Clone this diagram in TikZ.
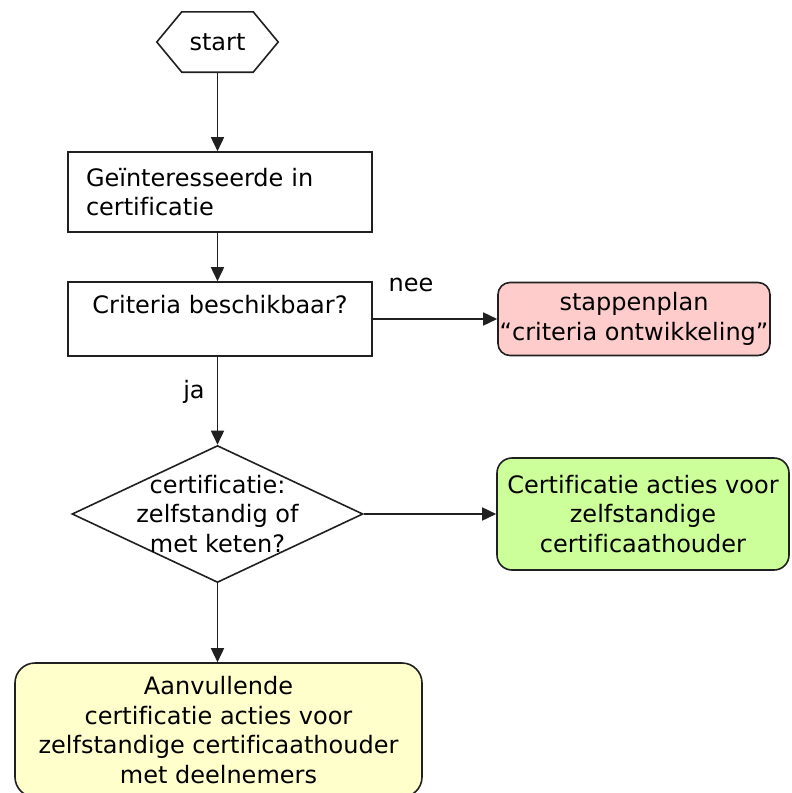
\documentclass[tikz,border=0pt]{standalone}
\usepackage{fontspec}
\setmainfont[Ligatures=NoCommon]{DejaVu Sans}
\usetikzlibrary{arrows.meta,shapes.geometric}
\definecolor{pinkfill}{HTML}{FFCCCC}
\definecolor{greenfill}{HTML}{CCFF99}
\definecolor{yellowfill}{HTML}{FFFFCC}
\definecolor{edgecol}{HTML}{202020}
\begin{document}
\begin{tikzpicture}[x=1pt,y=-1pt,
  font=\fontsize{24}{29.5}\selectfont,
  every node/.style={inner sep=0pt},
  line/.style={draw=edgecol,line width=1.6pt},
  box/.style={line,fill=white,rectangle},
  rbox/.style={line,rectangle,align=center},
  conn/.style={line,-{Triangle[length=14pt,width=13pt]}},
  lbl/.style={text=black}]
\useasboundingbox (0,0) rectangle (792,793);
\clip (0,0) rectangle (792,793);
% start
\node[minimum width=121pt,minimum height=60pt] (start) at (217.5,42) {start};
\draw[line] (start.west) -- ([xshift=25pt]start.north west) -- ([xshift=-25pt]start.north east)
  -- (start.east) -- ([xshift=-25pt]start.south east) -- ([xshift=25pt]start.south west) -- cycle;
% box 1
\node[box,minimum width=304pt,minimum height=80pt,text width=268pt,inner xsep=18pt,align=left] (b1) at (220,192)
  {Geïnteresseerde in\\certificatie};
% box 2
\node[box,minimum width=304pt,minimum height=74pt,
  label={[anchor=north,inner sep=0pt,yshift=-14pt]north:Criteria beschikbaar?}] (b2) at (220,319) {};
% pink
\node[rbox,fill=pinkfill,rounded corners=12pt,minimum width=272pt,minimum height=73pt] (pink) at (634,319)
  {stappenplan\\“criteria ontwikkeling”};
% diamond
\node[line,diamond,fill=white,minimum width=291pt,minimum height=137pt,
  label={[align=center]center:certificatie:\\zelfstandig of\\met keten?}] (dec) at (217.5,514) {};
% green
\node[rbox,fill=greenfill,rounded corners=15pt,minimum width=292pt,minimum height=112pt] (green) at (643,514)
  {Certificatie acties voor\\zelfstandige\\certificaathouder};
% yellow
\node[rbox,fill=yellowfill,rounded corners=20pt,minimum width=407pt,minimum height=134pt] (yellow) at (218.5,730)
  {Aanvullende\\certificatie acties voor\\zelfstandige certificaathouder\\met deelnemers};
% labels
\node[lbl] (nee) at (411,285) {nee};
\node[lbl] (ja) at (194,392) {ja};
% connectors
\draw[conn] (start.south) -- (start.south |- b1.north);
\draw[conn] (b1.south -| start.south) -- (start.south |- b2.north);
\draw[conn] (b2.east) -- (pink.west);
\draw[conn] (dec.north |- b2.south) -- (dec.north);
\draw[conn] (dec.east) -- (green.west);
\draw[conn] (dec.south) -- (dec.south |- yellow.north);
\end{tikzpicture}
\end{document}
